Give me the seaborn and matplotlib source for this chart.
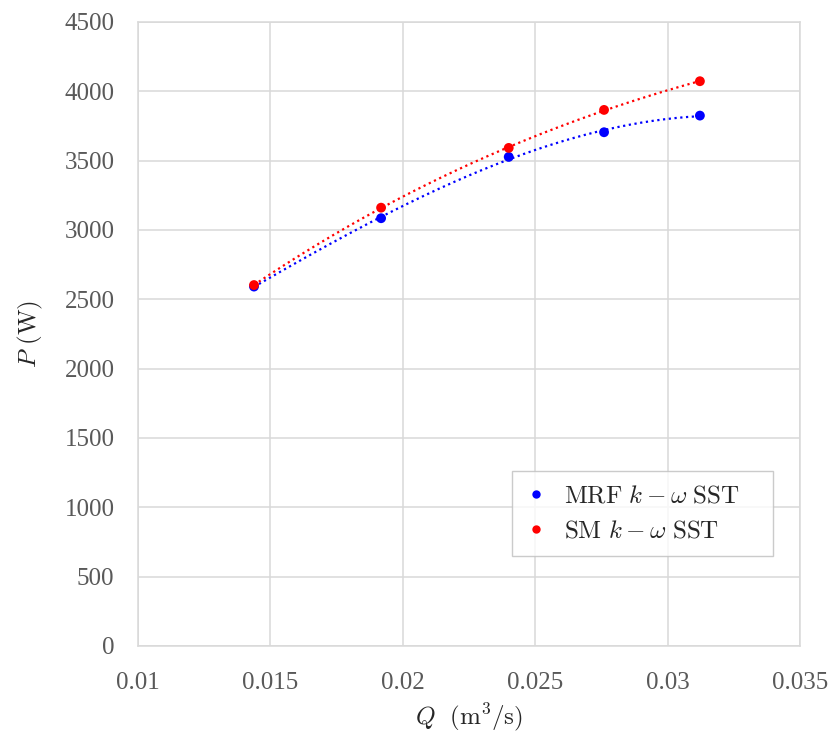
import numpy as np
import pandas as pd
import seaborn as sns
import matplotlib.pyplot as plt

# flow rate (m3/s) and shaft power (W)
q_vals = [0.01438, 0.01918, 0.0240, 0.0276, 0.03122]
p_mrf = [2592, 3085, 3527, 3705, 3825]
p_sm = [2603, 3161, 3592, 3866, 4073]
series_labels = [r"$\mathrm{MRF}\ k-\omega\ \mathrm{SST}$", r"$\mathrm{SM}\ k-\omega\ \mathrm{SST}$"]
series_colors = ["#0000ff", "#ff0000"]
x_ticks = [0.01, 0.015, 0.02, 0.025, 0.03, 0.035]
x_tick_labels = ["0.01", "0.015", "0.02", "0.025", "0.03", "0.035"]
y_ticks = list(range(0, 5000, 500))

df = pd.DataFrame({
    "Q": q_vals * 2,
    "P": p_mrf + p_sm,
    "case": [series_labels[0]] * len(q_vals) + [series_labels[1]] * len(q_vals),
})

sns.set_style("whitegrid")
plt.rcParams["font.family"] = ["Liberation Serif", "DejaVu Serif"]
plt.rcParams["mathtext.fontset"] = "cm"

fig = plt.figure(figsize=(8.32, 7.35), dpi=100)
ax = fig.add_axes([138 / 832, 89 / 735, 662 / 832, 624 / 735])

# dotted polynomial trendlines (Excel style)
for lab, col in zip(series_labels, series_colors):
    sub = df[df["case"] == lab]
    coef = np.polyfit(sub["Q"], sub["P"], 3)
    xs = np.linspace(sub["Q"].min(), sub["Q"].max(), 200)
    ax.plot(xs, np.polyval(coef, xs), color=col, lw=1.6, ls=(0, (1, 1.6)), zorder=2)

sns.scatterplot(data=df, x="Q", y="P", hue="case", palette=series_colors,
                s=50, edgecolor="none", ax=ax, zorder=3)

ax.set_xlim(0.01, 0.035)
ax.set_ylim(0, 4500)
ax.set_xticks(x_ticks)
ax.set_xticklabels(x_tick_labels)
ax.set_yticks(y_ticks)
ax.tick_params(axis="both", labelsize=18, labelcolor="#595959", length=0)
ax.tick_params(axis="x", pad=19)
ax.tick_params(axis="y", pad=17)
ax.grid(True, color="#d9d9d9", lw=1.1)
for s in ax.spines.values():
    s.set_color("#d9d9d9")
    s.set_linewidth(1.1)

ax.set_xlabel(r"$Q\ \ (\mathrm{m}^3/\mathrm{s})$", fontsize=18, labelpad=5)
ax.set_ylabel(r"$P\ (\mathrm{W})$", fontsize=18, labelpad=14)

handles, labels = ax.get_legend_handles_labels()
leg = ax.legend(handles, [l + "    " for l in labels],
                loc="lower right", bbox_to_anchor=(0.959, 0.144), borderaxespad=0,
                fontsize=18, frameon=True, fancybox=False, edgecolor="#bfbfbf",
                handlelength=0.8, handletextpad=0.7, borderpad=0.55,
                labelspacing=0.5, markerscale=0.85)
leg.get_frame().set_linewidth(1.0)

fig.savefig("out.png", dpi=100)
